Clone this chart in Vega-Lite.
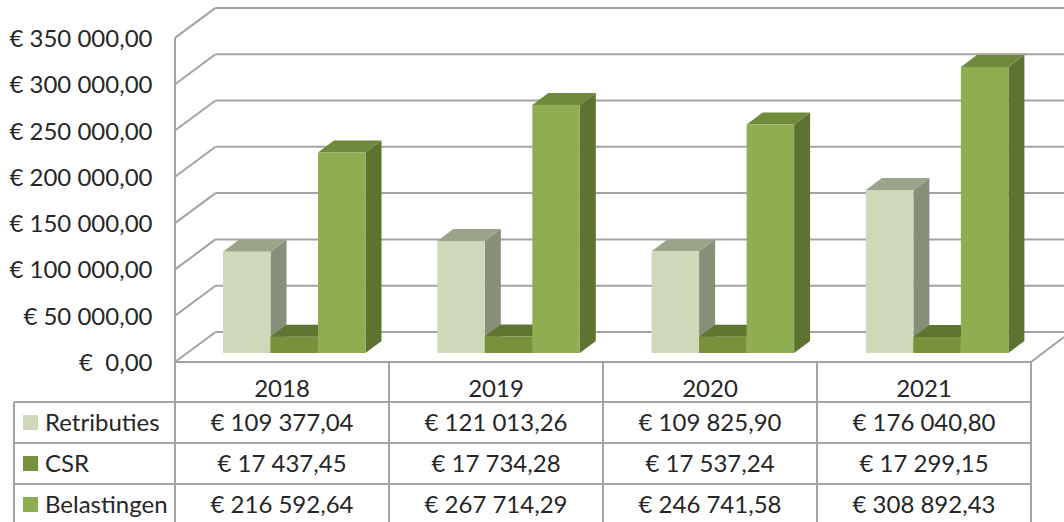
{
"$schema":"https://vega.github.io/schema/vega-lite/v6.json",
"width":1064,"height":522,"padding":0,"autosize":{"type":"none"},
"background":"white",
"config":{"view":{"stroke":null},"text":{"font":"Lato"},"axis":{"labelFont":"Lato"}},
"datasets":{
"bars":[
{"year":"2018","series":"Retributies","value":109377.04},
{"year":"2018","series":"CSR","value":17437.45},
{"year":"2018","series":"Belastingen","value":216592.64},
{"year":"2019","series":"Retributies","value":121013.26},
{"year":"2019","series":"CSR","value":17734.28},
{"year":"2019","series":"Belastingen","value":267714.29},
{"year":"2020","series":"Retributies","value":109825.90},
{"year":"2020","series":"CSR","value":17537.24},
{"year":"2020","series":"Belastingen","value":246741.58},
{"year":"2021","series":"Retributies","value":176040.80},
{"year":"2021","series":"CSR","value":17299.15},
{"year":"2021","series":"Belastingen","value":308892.43}
],
"levels":[{"v":0},{"v":50000},{"v":100000},{"v":150000},{"v":200000},{"v":250000},{"v":300000},{"v":350000}],
"years":[{"year":"2018"},{"year":"2019"},{"year":"2020"},{"year":"2021"}],
"rows":[{"series":"Retributies"},{"series":"CSR"},{"series":"Belastingen"}],
"cols":[{"c":0},{"c":1},{"c":2},{"c":3},{"c":4}]
},
"resolve":{"scale":{"y":"independent"}},
"layer":[
{"data":{"name":"levels"},
 "transform":[{"calculate":"datum.v+32397","as":"vb"}],
 "mark":{"type":"rule","color":"#A3A3A3","strokeWidth":2},
 "encoding":{
  "x":{"datum":175,"type":"quantitative","scale":{"domain":[0,1064],"range":[0,1064],"nice":false,"zero":false},"axis":null},
  "x2":{"datum":215.5},
  "y":{"field":"v","type":"quantitative","scale":{"domain":[-172786,390929],"range":[522,0],"zero":false,"nice":false},
   "axis":{"orient":"left","offset":-158,"values":[0,50000,100000,150000,200000,250000,300000,350000],"domain":false,"ticks":false,"grid":false,"title":null,"labelPadding":6,"labelOffset":1.5,"labelFontSize":24,"labelColor":"#262626","labelFont":"Lato",
   "labelExpr":"datum.value==0?'€\u00a0\u00a00,00':'€ '+replace(replace(format(datum.value,',.2f'),',',' '),'.',',')"}},
  "y2":{"field":"vb"}
 }},
{"layer":[
{"data":{"name":"levels"},
 "transform":[{"calculate":"datum.v+32397","as":"vb"}],
 "mark":{"type":"rule","color":"#A3A3A3","strokeWidth":2},
 "encoding":{"x":{"datum":215.5,"type":"quantitative","axis":null},"x2":{"datum":1064},"y":{"field":"vb","type":"quantitative","axis":null,"scale":{"domain":[-172786,390929],"range":[522,0],"zero":false,"nice":false}}}},
{"data":{"name":"years"},"transform":[{"filter":"datum.year=='2018'"}],
 "mark":{"type":"rule","color":"#A3A3A3","strokeWidth":2},
 "encoding":{"x":{"datum":175,"type":"quantitative","axis":null},"y":{"datum":350000,"type":"quantitative","axis":null},"y2":{"datum":-172786}}},
{"data":{"name":"years"},"transform":[{"filter":"datum.year=='2018'"}],
 "mark":{"type":"rule","color":"#A3A3A3","strokeWidth":2},
 "encoding":{"x":{"datum":175,"type":"quantitative","axis":null},"x2":{"datum":1031},"y":{"datum":0,"type":"quantitative","axis":null}}},
{"data":{"name":"years"},"transform":[{"filter":"datum.year=='2018'"}],
 "mark":{"type":"rule","color":"#A3A3A3","strokeWidth":2},
 "encoding":{"x":{"datum":1031,"type":"quantitative","axis":null},"x2":{"datum":1064},"y":{"datum":0,"type":"quantitative","axis":null},"y2":{"datum":26998}}},
{"data":{"name":"bars"},
 "transform":[
  {"calculate":"indexof(['2018','2019','2020','2021'],datum.year)","as":"i"},
  {"calculate":"indexof(['Retributies','CSR','Belastingen'],datum.series)","as":"j"},
  {"calculate":"223+datum.i*214.3+datum.j*47.5","as":"x0"},
  {"calculate":"[0,1]","as":"k"},{"flatten":["k"]},
  {"calculate":"datum.x0+47.5+datum.k*16","as":"sx"},
  {"calculate":"9720+datum.value+datum.k*12959","as":"sy"},
  {"calculate":"9720+datum.k*12959","as":"sy2"},
  {"calculate":"datum.series+' side'","as":"key"},
  {"calculate":"datum.year+datum.series","as":"id"}],
 "mark":{"type":"area","orient":"vertical"},
 "encoding":{"x":{"field":"sx","type":"quantitative","axis":null},
  "y":{"field":"sy","type":"quantitative","axis":null,"stack":null},"y2":{"field":"sy2"},"detail":{"field":"id"},
  "color":{"field":"key","legend":null,"scale":{"domain":["Retributies front","CSR front","Belastingen front","Retributies side","CSR side","Belastingen side","Retributies top","CSR top","Belastingen top"],"range":["#CDD9B8","#77923B","#8FAE52","#868F78","#5B7029","#5F7330","#9AA488","#5F7530","#6F8A3A"]}}}},
{"data":{"name":"bars"},
 "transform":[
  {"calculate":"indexof(['2018','2019','2020','2021'],datum.year)","as":"i"},
  {"calculate":"indexof(['Retributies','CSR','Belastingen'],datum.series)","as":"j"},
  {"calculate":"223+datum.i*214.3+datum.j*47.5","as":"x0"},
  {"calculate":"[0,1]","as":"k"},{"flatten":["k"]},
  {"calculate":"datum.x0+datum.k*16","as":"tx"},
  {"calculate":"datum.x0+47.5+datum.k*16","as":"tx2"},
  {"calculate":"9720+datum.value+datum.k*12959","as":"ty"},
  {"calculate":"datum.series+' top'","as":"key"},
  {"calculate":"datum.year+datum.series","as":"id"}],
 "mark":{"type":"area","orient":"horizontal"},
 "encoding":{"y":{"field":"ty","type":"quantitative","axis":null},
  "x":{"field":"tx","type":"quantitative","axis":null,"stack":null},"x2":{"field":"tx2"},"detail":{"field":"id"},
  "color":{"field":"key","legend":null}}},
{"data":{"name":"bars"},
 "transform":[
  {"calculate":"indexof(['2018','2019','2020','2021'],datum.year)","as":"i"},
  {"calculate":"indexof(['Retributies','CSR','Belastingen'],datum.series)","as":"j"},
  {"calculate":"223+datum.i*214.3+datum.j*47.5","as":"x0"},
  {"calculate":"datum.x0+47.5","as":"x1"},
  {"calculate":"9720+datum.value","as":"top"},
  {"calculate":"9720","as":"base"},
  {"calculate":"datum.series+' front'","as":"key"}],
 "mark":{"type":"rect"},
 "encoding":{"x":{"field":"x0","type":"quantitative","axis":null},"x2":{"field":"x1"},
  "y":{"field":"top","type":"quantitative","axis":null},"y2":{"field":"base"},
  "color":{"field":"key","legend":null}}},
{"data":{"name":"cols"},
 "mark":{"type":"rule","color":"#A3A3A3","strokeWidth":2},
 "transform":[{"calculate":"175+datum.c*214","as":"cx"}],
 "encoding":{"x":{"field":"cx","type":"quantitative","axis":null},"y":{"datum":0,"type":"quantitative","axis":null},"y2":{"datum":-172786}}},
{"data":{"name":"rows"},"transform":[{"filter":"datum.series=='Retributies'"}],
 "mark":{"type":"rule","color":"#A3A3A3","strokeWidth":2},
 "encoding":{"x":{"datum":14,"type":"quantitative","axis":null},"y":{"datum":-43200,"type":"quantitative","axis":null},"y2":{"datum":-172786}}}
]},
{"layer":[
{"data":{"name":"rows"},
 "mark":{"type":"rule","color":"#A3A3A3","strokeWidth":2},
 "encoding":{"x":{"datum":14,"type":"quantitative","axis":null},"x2":{"datum":1031},
  "y":{"field":"series","type":"nominal","bandPosition":0,"axis":null,"scale":{"type":"band","domain":["header","Retributies","CSR","Belastingen"],"range":[361,525],"paddingInner":0,"paddingOuter":0}}}},
{"data":{"name":"rows"},
 "transform":[{"calculate":"datum.series+' front'","as":"key"}],
 "mark":{"type":"point","shape":"square","filled":true,"size":225,"opacity":1},
 "encoding":{"x":{"datum":30.5,"type":"quantitative","axis":null},
  "y":{"field":"series","type":"nominal","axis":null},
  "color":{"field":"key","legend":null}}},
{"data":{"name":"rows"},
 "mark":{"type":"text","align":"left","baseline":"middle","fontSize":24,"font":"Lato","color":"#262626","dy":1.5},
 "encoding":{"x":{"datum":45,"type":"quantitative","axis":null},
  "y":{"field":"series","type":"nominal","axis":null},
  "text":{"field":"series"}}},
{"data":{"name":"bars"},
 "transform":[
  {"calculate":"indexof(['2018','2019','2020','2021'],datum.year)","as":"i"},
  {"calculate":"175+(datum.i+0.5)*214","as":"cx"},
  {"calculate":"'€ '+replace(replace(format(datum.value,',.2f'),',',' '),'.',',')","as":"label"}],
 "mark":{"type":"text","align":"center","baseline":"middle","fontSize":24,"font":"Lato","color":"#262626","dy":1.5},
 "encoding":{"x":{"field":"cx","type":"quantitative","axis":null},
  "y":{"field":"series","type":"nominal","axis":null},
  "text":{"field":"label"}}},
{"data":{"name":"years"},
 "transform":[
  {"calculate":"indexof(['2018','2019','2020','2021'],datum.year)","as":"i"},
  {"calculate":"175+(datum.i+0.5)*214","as":"cx"},
  {"calculate":"'header'","as":"row"}],
 "mark":{"type":"text","align":"center","baseline":"middle","fontSize":24,"font":"Lato","color":"#262626","dy":8},
 "encoding":{"x":{"field":"cx","type":"quantitative","axis":null},
  "y":{"field":"row","type":"nominal","axis":null},
  "text":{"field":"year"}}}
]}
]
}
